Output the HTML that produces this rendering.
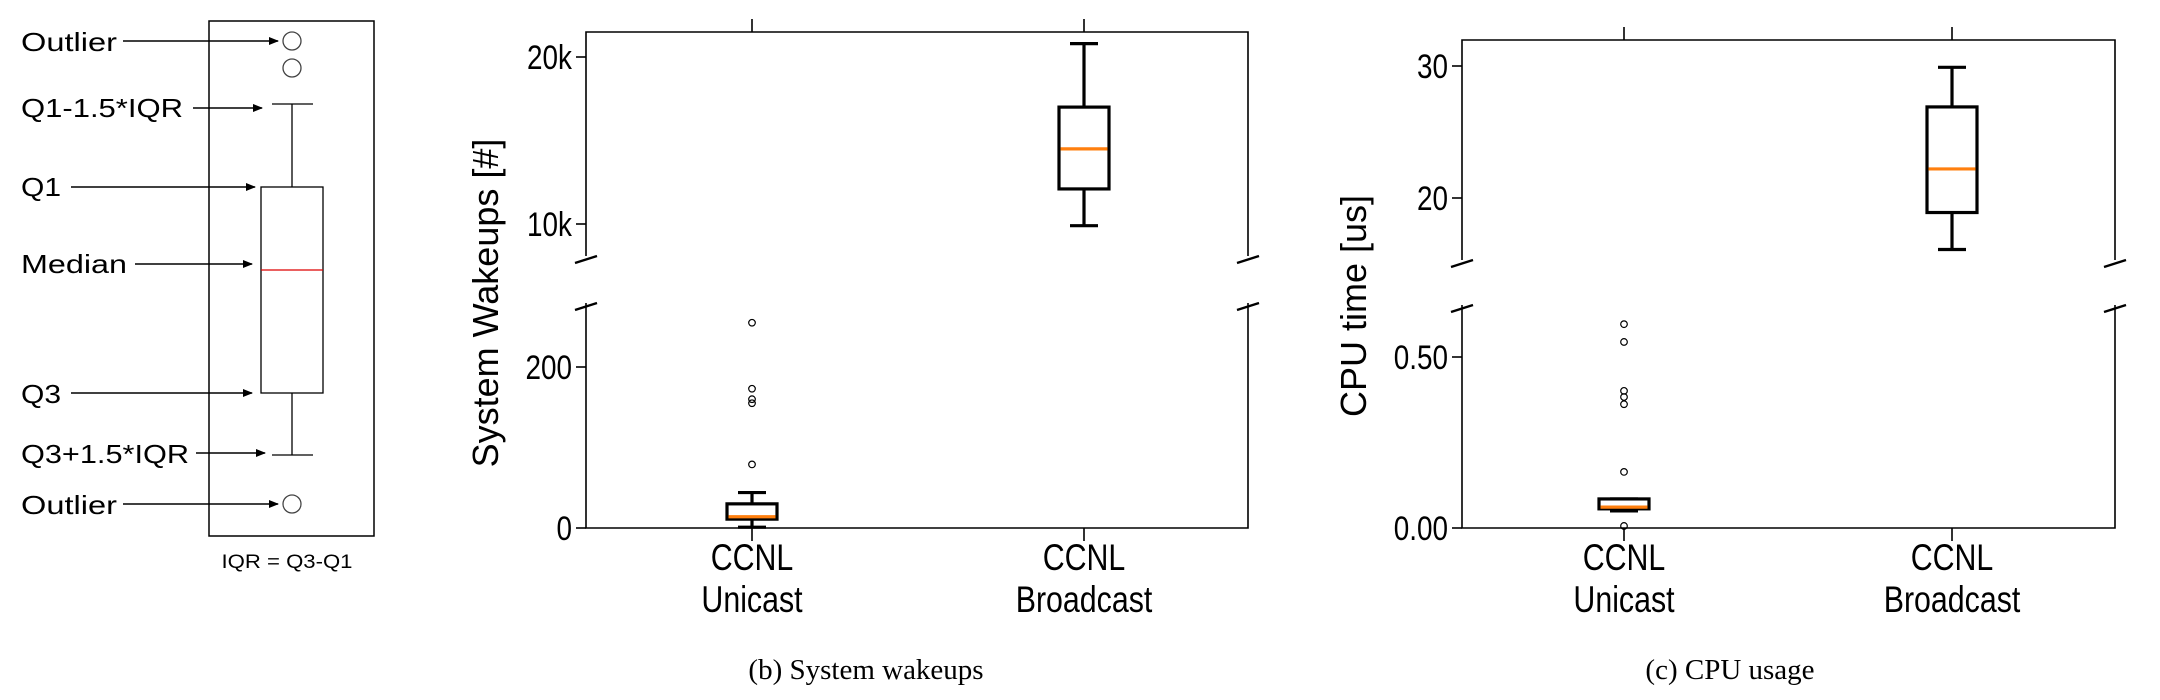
<!DOCTYPE html>
<html><head><meta charset="utf-8">
<style>
html,body{margin:0;padding:0;background:#fff;}
svg{display:block;}
text{font-family:"Liberation Sans",sans-serif;}
text.serif{font-family:"Liberation Serif",serif;}
</style></head>
<body>
<svg id="fig" width="2160" height="700" viewBox="0 0 2160 700" xmlns="http://www.w3.org/2000/svg">
<defs><marker id="ah" markerWidth="10" markerHeight="8" refX="9" refY="4" orient="auto" markerUnits="userSpaceOnUse"><path d="M0,0 L10,4 L0,8 Z" fill="#000"/></marker></defs>
<g id="legend">
<rect x="209" y="21" width="165" height="515" fill="none" stroke="#000" stroke-width="1.5"/>
<circle cx="292" cy="41" r="9" fill="none" stroke="#444" stroke-width="1.3"/>
<circle cx="292" cy="68" r="9" fill="none" stroke="#444" stroke-width="1.3"/>
<line x1="272" y1="104" x2="313" y2="104" stroke="#000" stroke-width="1.3"/>
<line x1="292" y1="104" x2="292" y2="187" stroke="#000" stroke-width="1.3"/>
<rect x="261" y="187" width="62" height="206" fill="none" stroke="#000" stroke-width="1.3"/>
<line x1="261" y1="270" x2="323" y2="270" stroke="#d00" stroke-width="1.3"/>
<line x1="292" y1="393" x2="292" y2="455" stroke="#000" stroke-width="1.3"/>
<line x1="272" y1="455" x2="313" y2="455" stroke="#000" stroke-width="1.3"/>
<circle cx="292" cy="504" r="9" fill="none" stroke="#444" stroke-width="1.3"/>
<g font-size="26" fill="#000">
<text x="21" y="51" textLength="96" lengthAdjust="spacingAndGlyphs">Outlier</text>
<text x="21" y="117" textLength="162" lengthAdjust="spacingAndGlyphs">Q1-1.5*IQR</text>
<text x="21" y="196" textLength="40" lengthAdjust="spacingAndGlyphs">Q1</text>
<text x="21" y="273" textLength="106" lengthAdjust="spacingAndGlyphs">Median</text>
<text x="21" y="403" textLength="40" lengthAdjust="spacingAndGlyphs">Q3</text>
<text x="21" y="463" textLength="168" lengthAdjust="spacingAndGlyphs">Q3+1.5*IQR</text>
<text x="21" y="514" textLength="96" lengthAdjust="spacingAndGlyphs">Outlier</text>
</g>
<g stroke="#000" stroke-width="1.5" marker-end="url(#ah)">
<line x1="123" y1="41" x2="278" y2="41"/>
<line x1="193" y1="108" x2="262" y2="108"/>
<line x1="71" y1="187" x2="255" y2="187"/>
<line x1="135" y1="264" x2="252" y2="264"/>
<line x1="71" y1="393" x2="252" y2="393"/>
<line x1="196" y1="453" x2="265" y2="453"/>
<line x1="123" y1="504" x2="278" y2="504"/>
</g>
<text x="287" y="568" font-size="19" text-anchor="middle" textLength="131" lengthAdjust="spacingAndGlyphs">IQR = Q3-Q1</text>
</g>
<g id="p1"></g>
<g id="p2"></g>
</svg>
<script>
// Chart b: System wakeups
const categories = ["CCNL|Unicast", "CCNL|Broadcast"];
const wakeStats = [[1, 11, 14, 30, 44], [9900, 12100, 14500, 17000, 20800]]; // lo,q1,med,q3,hi
const wakeOutliers = [[255, 173, 160, 155, 79], []];
const wakeUpperTicks = [10000, 20000];
const wakeUpperLabels = ["10k", "20k"];
const wakeLowerTicks = [0, 200];
const wakeLowerLabels = ["0", "200"];
// Chart c: CPU usage
const cpuStats = [[0.05, 0.056, 0.061, 0.085, 0.085], [16.1, 18.9, 22.2, 26.9, 29.9]];
const cpuOutliers = [[0.596, 0.544, 0.401, 0.383, 0.362, 0.164, 0.006], []];
const cpuUpperTicks = [20, 30];
const cpuUpperLabels = ["20", "30"];
const cpuLowerTicks = [0, 0.5];
const cpuLowerLabels = ["0.00", "0.50"];

const NS = "http://www.w3.org/2000/svg";
function mk(parent, tag, attrs, txt) {
  const e = document.createElementNS(NS, tag);
  for (const k in attrs) e.setAttribute(k, attrs[k]);
  if (txt !== undefined) e.textContent = txt;
  parent.appendChild(e);
  return e;
}
function lin(d0, d1, r0, r1) { return v => r0 + (v - d0) * (r1 - r0) / (d1 - d0); }

function drawChart(g, cfg) {
  const L = cfg.left, R = cfg.right;
  const yU = lin(cfg.uDom[0], cfg.uDom[1], cfg.uPx[0], cfg.uPx[1]);
  const yL = lin(cfg.lDom[0], cfg.lDom[1], cfg.lPx[0], cfg.lPx[1]);
  const yOf = v => v >= cfg.split ? yU : yL;
  const xs = cfg.xs;
  const ax = mk(g, 'g', {stroke:'#000','stroke-width':1.6,fill:'none'});
  
  
  mk(ax,'path',{d:`M${L},${cfg.breakU} L${L},${cfg.top} L${R},${cfg.top} L${R},${cfg.breakU}`});
  mk(ax,'path',{d:`M${L},${cfg.breakL} L${L},${cfg.bottom} L${R},${cfg.bottom} L${R},${cfg.breakL}`});
  [cfg.breakU+4, cfg.breakL+4].forEach(y => {
    mk(ax,'line',{x1:L-11,y1:y+3,x2:L+11,y2:y-4,'stroke-width':2.4});
    mk(ax,'line',{x1:R-11,y1:y+3,x2:R+11,y2:y-4,'stroke-width':2.4});
  });
  xs.forEach(x => {
    mk(ax,'line',{x1:x,y1:cfg.top-13,x2:x,y2:cfg.top});
    mk(ax,'line',{x1:x,y1:cfg.bottom,x2:x,y2:cfg.bottom+13});
  });
  const tk = (ticks, labels, sc, nm) => ticks.forEach((t,i) => {
    const y = sc(t);
    mk(ax,'line',{x1:L-10,y1:y,x2:L,y2:y});
    const tx = mk(g,'text',{x:L-14,y:y+12,'font-size':34,'text-anchor':'end',transform:`translate(${L-14},0) scale(0.82,1) translate(${-(L-14)},0)`}, labels[i]);
    
    
  });
  tk(cfg.uTicks, cfg.uLabels, yU, cfg.name + '-upper');
  tk(cfg.lTicks, cfg.lLabels, yL, cfg.name + '-lower');
  cfg.stats.forEach((s, i) => {
    const x = xs[i], bw = 50, cw = 28;
    const bg = mk(g,'g',{stroke:'#000','stroke-width':3.2,fill:'none'});
    
    
    const sc = yOf(s[2]);
    mk(bg,'line',{x1:x,y1:sc(s[0]),x2:x,y2:sc(s[1])});
    mk(bg,'line',{x1:x,y1:sc(s[3]),x2:x,y2:sc(s[4])});
    mk(bg,'line',{x1:x-cw/2,y1:sc(s[0]),x2:x+cw/2,y2:sc(s[0])});
    mk(bg,'line',{x1:x-cw/2,y1:sc(s[4]),x2:x+cw/2,y2:sc(s[4])});
    mk(bg,'rect',{x:x-bw/2,y:sc(s[3]),width:bw,height:Math.max(sc(s[1])-sc(s[3]),1)});
    const med = mk(bg,'line',{x1:x-bw/2+1.5,y1:sc(s[2]),x2:x+bw/2-1.5,y2:sc(s[2]),stroke:'#ff7f0e'});
    
    
    cfg.outliers[i].forEach(v => {
      const c = mk(g,'circle',{cx:x,cy:yOf(v)(v),r:3.3,fill:'none',stroke:'#000','stroke-width':1.2});
      
      
    });
    const parts = categories[i].split('|');
    parts.forEach((p, j) => {
      const t = mk(g,'text',{x:x,y:cfg.bottom+42+j*42,'font-size':37,'text-anchor':'middle',transform:`translate(${x},0) scale(0.82,1) translate(${-x},0)`}, p);
      
      
    });
  });
  const yl = mk(g,'text',{x:0,y:0,'font-size':36,'text-anchor':'middle',transform:`translate(${cfg.ylx},${cfg.yly}) rotate(-90)`}, cfg.ylabel);
  
  
  const cap = mk(g,'text',{x:cfg.capx,y:679,'font-size':29,'text-anchor':'middle','class':'serif'}, cfg.caption);
  
  
}

drawChart(document.getElementById('p1'), {
  name:'wakeups', left:586, right:1248, top:32, bottom:528, breakU:256, breakL:303,
  uDom:[10000,20000], uPx:[224,57], lDom:[0,200], lPx:[528,367], split:5000,
  xs:[752,1084], stats:wakeStats, outliers:wakeOutliers,
  uTicks:wakeUpperTicks, uLabels:wakeUpperLabels, lTicks:wakeLowerTicks, lLabels:wakeLowerLabels,
  ylabel:'System Wakeups [#]', ylx:498, yly:303, caption:'(b) System wakeups', capx:866
});
drawChart(document.getElementById('p2'), {
  name:'cpu', left:1462, right:2115, top:40, bottom:528, breakU:260, breakL:305,
  uDom:[20,30], uPx:[198,66], lDom:[0,0.5], lPx:[528,357], split:5,
  xs:[1624,1952], stats:cpuStats, outliers:cpuOutliers,
  uTicks:cpuUpperTicks, uLabels:cpuUpperLabels, lTicks:cpuLowerTicks, lLabels:cpuLowerLabels,
  ylabel:'CPU time [us]', ylx:1366, yly:306, caption:'(c) CPU usage', capx:1730
});
</script>
</body></html>
